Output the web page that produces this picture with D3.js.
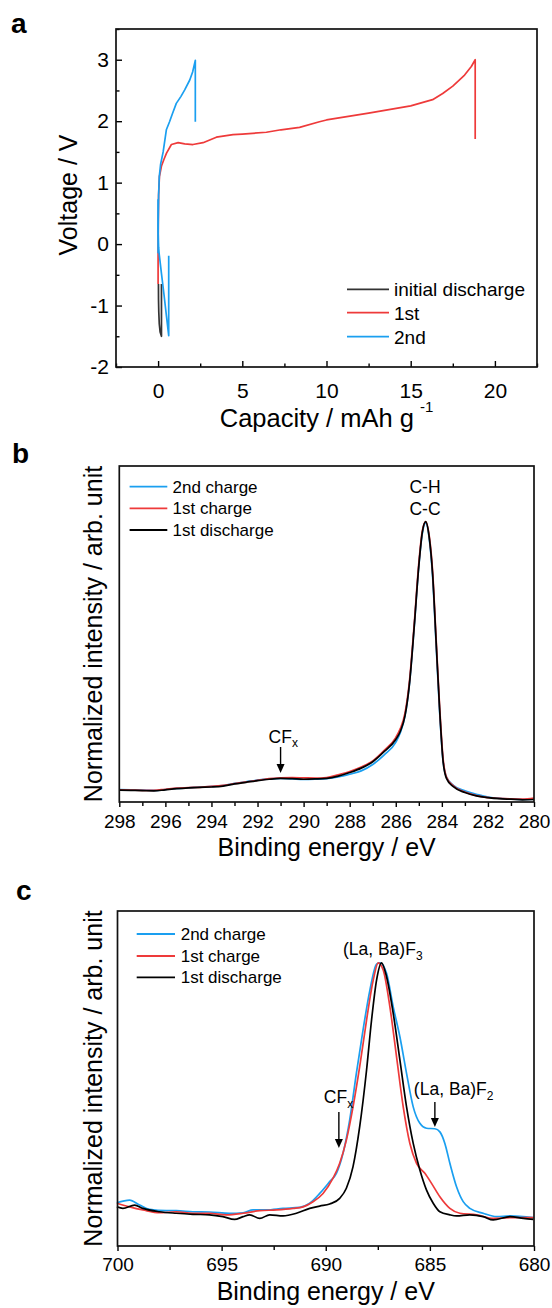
<!DOCTYPE html>
<html><head><meta charset="utf-8">
<script src="https://cdn.jsdelivr.net/npm/d3@7"></script>
<style>
body{margin:0;background:#fff}
svg{display:block}
text{font-family:Arial,"Liberation Sans",Helvetica,sans-serif;fill:#000}
</style>
</head><body>
<svg id="fig" width="552" height="1308"></svg>
<script>
// ---------------- Panel a data (capacity mAh/g, voltage V) ----------------
const aInitCap = [0.02, 0.025, 0.04, 0.07, 0.12, 0.2, 0.2];
const aInitV   = [-0.65, -0.9, -1.1, -1.3, -1.43, -1.5, -0.65];
const a1stCap = [0.0, 0.0, 0.01, 0.03, 0.08, 0.2, 0.35, 0.5, 0.79, 1.19, 1.58, 2.07, 2.67, 3.46, 4.45, 5.0, 6.43, 7.3, 8.4, 9.58, 10.0, 12.5, 15.0, 16.3, 16.9, 17.5, 18.2, 18.6, 18.83, 18.83];
const a1stV   = [-0.65, -0.2, 0.3, 0.8, 1.1, 1.27, 1.38, 1.48, 1.62, 1.65, 1.63, 1.62, 1.65, 1.74, 1.78, 1.79, 1.82, 1.86, 1.90, 1.99, 2.02, 2.13, 2.25, 2.35, 2.45, 2.57, 2.75, 2.89, 3.0, 1.71];
const a2ndDisCap = [0.0, 0.0, 0.03, 0.06, 0.2, 0.35, 0.5, 0.63, 0.63];
const a2ndDisV   = [0.73, 0.2, -0.05, -0.15, -0.48, -0.82, -1.18, -1.49, -0.19];
const a2ndChgCap = [0.0, 0.01, 0.03, 0.07, 0.15, 0.3, 0.49, 0.68, 0.85, 1.08, 1.35, 1.58, 1.88, 2.05, 2.21, 2.21];
const a2ndChgV   = [-0.15, 0.4, 0.8, 1.1, 1.3, 1.5, 1.86, 1.99, 2.12, 2.29, 2.4, 2.51, 2.67, 2.8, 2.99, 1.99];
const aXTicks = [0, 5, 10, 15, 20];
const aXMinor = [-2.5, 2.5, 7.5, 12.5, 17.5, 22.5];
const aYTicks = [-2, -1, 0, 1, 2, 3];
const aYMinor = [-1.5, -0.5, 0.5, 1.5, 2.5, 3.5];
const aLegend = ["initial discharge", "1st", "2nd"];

// ---------------- Panel b data (binding energy eV, normalized intensity) ----------------
const bE = [298, 297.5, 297, 296.5, 296, 295.5, 295, 294.5, 294, 293.5, 293, 292.5, 292, 291.5, 291, 290.5, 290, 289.5, 289, 288.5, 288, 287.5, 287, 286.5, 286, 285.8, 285.6, 285.4, 285.2, 285.0, 284.85, 284.7, 284.55, 284.4, 284.25, 284.1, 283.95, 283.8, 283.5, 283, 282.5, 282, 281.5, 281, 280.5, 280];
const bBlack = [0.033, 0.032, 0.031, 0.030, 0.034, 0.038, 0.041, 0.043, 0.044, 0.047, 0.055, 0.061, 0.067, 0.072, 0.075, 0.074, 0.072, 0.073, 0.075, 0.083, 0.096, 0.112, 0.135, 0.172, 0.215, 0.245, 0.30, 0.42, 0.62, 0.84, 0.96, 1.0, 0.945, 0.81, 0.57, 0.33, 0.14, 0.075, 0.045, 0.024, 0.012, 0.006, 0.002, 0.0, -0.002, -0.001];
const bRed   = [0.034, 0.033, 0.032, 0.032, 0.036, 0.040, 0.042, 0.043, 0.046, 0.050, 0.056, 0.062, 0.068, 0.074, 0.077, 0.078, 0.077, 0.076, 0.078, 0.088, 0.100, 0.116, 0.138, 0.176, 0.222, 0.255, 0.31, 0.43, 0.63, 0.85, 0.965, 1.0, 0.95, 0.82, 0.58, 0.34, 0.15, 0.08, 0.048, 0.026, 0.013, 0.006, 0.003, 0.001, 0.0, 0.004];
const bBlue  = [0.035, 0.034, 0.033, 0.032, 0.035, 0.039, 0.041, 0.044, 0.046, 0.049, 0.057, 0.063, 0.069, 0.073, 0.075, 0.073, 0.071, 0.072, 0.074, 0.080, 0.090, 0.102, 0.125, 0.160, 0.205, 0.24, 0.30, 0.42, 0.62, 0.84, 0.955, 0.995, 0.94, 0.80, 0.56, 0.32, 0.14, 0.08, 0.050, 0.030, 0.018, 0.008, 0.003, 0.001, -0.001, 0.0];
const bXTicks = [298, 296, 294, 292, 290, 288, 286, 284, 282, 280];
const bXMinor = [297, 295, 293, 291, 289, 287, 285, 283, 281];

// ---------------- Panel c data ----------------
const cBlueE = [700.03, 699.42, 698.94, 698.46, 697.66, 697.18, 696.38, 695.58, 694.62, 693.97, 693.49, 692.85, 692.05, 691.25, 690.77, 690.29, 689.81, 689.49, 689.17, 688.85, 688.53, 688.21, 687.88, 687.56, 687.40, 687.08, 686.76, 686.44, 686.12, 685.80, 685.48, 685.16, 684.76, 684.52, 684.28, 684.04, 683.72, 683.40, 683.08, 682.44, 681.79, 681.15, 680.03];
const cBlueI = [0.068, 0.078, 0.059, 0.042, 0.037, 0.037, 0.033, 0.032, 0.027, 0.029, 0.040, 0.040, 0.046, 0.050, 0.066, 0.104, 0.150, 0.182, 0.260, 0.389, 0.570, 0.738, 0.893, 0.994, 0.999, 0.958, 0.828, 0.712, 0.570, 0.440, 0.376, 0.357, 0.355, 0.343, 0.298, 0.221, 0.130, 0.072, 0.046, 0.027, 0.014, 0.017, 0.010];
const cRedE = [700.03, 699.42, 698.78, 697.98, 697.18, 696.38, 695.58, 694.78, 693.97, 693.17, 692.37, 691.57, 691.09, 690.61, 690.13, 689.65, 689.33, 689.01, 688.69, 688.37, 688.04, 687.72, 687.48, 687.24, 686.92, 686.60, 686.28, 685.96, 685.64, 685.24, 684.92, 684.52, 684.04, 683.56, 682.76, 681.96, 681.15, 680.03];
const cRedI = [0.066, 0.052, 0.040, 0.029, 0.033, 0.027, 0.027, 0.021, 0.027, 0.037, 0.040, 0.046, 0.052, 0.072, 0.104, 0.163, 0.221, 0.311, 0.440, 0.596, 0.777, 0.932, 0.999, 0.971, 0.828, 0.634, 0.440, 0.298, 0.221, 0.182, 0.143, 0.091, 0.046, 0.027, 0.021, 0.007, 0.010, 0.010];
const cBlackE = [700.03, 699.74, 699.18, 698.78, 697.98, 697.18, 696.38, 695.58, 694.94, 694.38, 693.97, 693.65, 693.17, 692.69, 692.05, 691.41, 690.77, 690.29, 689.81, 689.33, 689.01, 688.69, 688.37, 688.04, 687.80, 687.56, 687.32, 687.08, 686.76, 686.44, 686.12, 685.80, 685.48, 685.16, 684.84, 684.52, 684.04, 683.72, 683.08, 682.44, 681.96, 681.15, 680.51, 680.03];
const cBlackI = [0.052, 0.046, 0.059, 0.046, 0.033, 0.027, 0.023, 0.021, 0.014, 0.003, 0.014, 0.021, 0.007, 0.021, 0.017, 0.027, 0.046, 0.055, 0.063, 0.085, 0.124, 0.208, 0.363, 0.583, 0.777, 0.932, 0.999, 0.945, 0.803, 0.622, 0.440, 0.298, 0.195, 0.117, 0.066, 0.033, 0.021, 0.017, 0.021, 0.014, 0.001, 0.014, 0.007, 0.003];
const cXTicks = [700, 695, 690, 685, 680];
const cXMinor = [697.5, 692.5, 687.5, 682.5];
const xpsLegend = ["2nd charge", "1st charge", "1st discharge"];

// ---------------- drawing ----------------
const svg = d3.select("#fig");
const RED = "#ee3a3a", BLUE = "#1a9ff0", BLACK = "#000", GREY = "#333";
const zip = (xs, ys) => xs.map((x, i) => [x, ys[i]]);

function styleAxis(g, fs) {
  g.select(".domain").remove();
  g.selectAll(".tick line").attr("stroke", "#000").attr("stroke-width", 1.4);
  g.selectAll("text").style("font-size", fs + "px").attr("fill", "#000");
}
function frame(x0, y0, x1, y1) {
  svg.append("rect").attr("x", x0).attr("y", y0).attr("width", x1 - x0).attr("height", y1 - y0)
    .attr("fill", "none").attr("stroke", "#111").attr("stroke-width", 1.7);
}
function legend(items, colors, x0, x1, tx, ys, fs) {
  items.forEach((t, i) => {
    svg.append("line").attr("x1", x0).attr("x2", x1).attr("y1", ys[i]).attr("y2", ys[i])
      .attr("stroke", colors[i]).attr("stroke-width", 1.8);
    svg.append("text").attr("x", tx).attr("y", ys[i]).attr("dy", "0.36em")
      .style("font-size", fs + "px").text(t);
  });
}
function arrow(x, y0, y1) {
  svg.append("line").attr("x1", x).attr("x2", x).attr("y1", y0).attr("y2", y1 - 7)
    .attr("stroke", "#000").attr("stroke-width", 1.4);
  svg.append("path").attr("d", `M${x - 4},${y1 - 9} L${x + 4},${y1 - 9} L${x},${y1} Z`).attr("fill", "#000");
}
function panelLabel(t, x, y) {
  svg.append("text").attr("x", x).attr("y", y).style("font-size", "28px").style("font-weight", "bold").text(t);
}

// ===== Panel a =====
{
  const L = 116, R = 537, T = 29, B = 367;
  const x = d3.scaleLinear().domain([-2.5, 22.5]).range([L, R]);
  const y = d3.scaleLinear().domain([-2, 3.5]).range([B, T]);
  const line = d3.line().x(d => x(d[0])).y(d => y(d[1]));
  const series = [
    [zip(aInitCap, aInitV), GREY],
    [zip(a1stCap, a1stV), RED],
    [zip(a2ndDisCap, a2ndDisV), BLUE],
    [zip(a2ndChgCap, a2ndChgV), BLUE]
  ];
  series.forEach(([d, c]) => svg.append("path").datum(d).attr("d", line)
    .attr("fill", "none").attr("stroke", c).attr("stroke-width", 1.7).attr("stroke-linejoin", "round"));
  let g = svg.append("g").attr("transform", `translate(0,${B})`)
    .call(d3.axisBottom(x).tickValues(aXTicks).tickSize(-6).tickPadding(16).tickFormat(d => String(d)));
  styleAxis(g, 21);
  g = svg.append("g").attr("transform", `translate(0,${B})`)
    .call(d3.axisBottom(x).tickValues(aXMinor).tickSize(-3.5).tickFormat(""));
  styleAxis(g, 21);
  g = svg.append("g").attr("transform", `translate(${L},0)`)
    .call(d3.axisLeft(y).tickValues(aYTicks).tickSize(-6).tickPadding(7).tickFormat(d => String(d)));
  styleAxis(g, 21);
  g = svg.append("g").attr("transform", `translate(${L},0)`)
    .call(d3.axisLeft(y).tickValues(aYMinor).tickSize(-3.5).tickFormat(""));
  styleAxis(g, 21);
  frame(L, T, R, B);
  const xt = svg.append("text").attr("x", (L + R) / 2).attr("y", 427).attr("text-anchor", "middle").style("font-size", "25.5px");
  xt.append("tspan").text("Capacity / mAh g");
  xt.append("tspan").attr("dy", -15).attr("dx", 6).style("font-size", "15px").text("-1");
  svg.append("text").attr("transform", `translate(77,195) rotate(-90)`).attr("text-anchor", "middle")
    .style("font-size", "25px").text("Voltage / V");
  legend(aLegend, [GREY, RED, BLUE], 347, 389, 394, [289.3, 312.7, 336.7], 19);
  panelLabel("a", 11, 33);
}

// ===== Panel b =====
{
  const L = 119.3, R = 534, T = 466, B = 802;
  const x = d3.scaleLinear().domain([298, 280]).range([L, R]);
  const y = d3.scaleLinear().domain([-0.01, 1.2]).range([B, T]);
  const line = d3.line().x(d => x(d[0])).y(d => y(d[1])).curve(d3.curveMonotoneX);
  [[bBlue, BLUE], [bRed, RED], [bBlack, BLACK]].forEach(([v, c]) =>
    svg.append("path").datum(zip(bE, v)).attr("d", line).attr("fill", "none")
      .attr("stroke", c).attr("stroke-width", 1.7).attr("stroke-linejoin", "round"));
  let g = svg.append("g").attr("transform", `translate(0,${B})`)
    .call(d3.axisBottom(x).tickValues(bXTicks).tickSize(5).tickPadding(8).tickFormat(d => String(d)));
  styleAxis(g, 19);
  g = svg.append("g").attr("transform", `translate(0,${B})`)
    .call(d3.axisBottom(x).tickValues(bXMinor).tickSize(4).tickFormat(""));
  styleAxis(g, 19);
  frame(L, T, R, B);
  svg.append("text").attr("x", (L + R) / 2).attr("y", 856).attr("text-anchor", "middle")
    .style("font-size", "25px").text("Binding energy / eV");
  svg.append("text").attr("transform", `translate(102,${(T + B) / 2}) rotate(-90)`).attr("text-anchor", "middle")
    .style("font-size", "25px").text("Normalized intensity / arb. unit");
  legend(xpsLegend, [BLUE, RED, BLACK], 129.6, 167.3, 172.5, [486.7, 508.3, 530], 17);
  const px = x(284.73);
  svg.append("text").attr("x", px).attr("y", 493).attr("text-anchor", "middle").style("font-size", "17.5px").text("C-H");
  svg.append("text").attr("x", px).attr("y", 515).attr("text-anchor", "middle").style("font-size", "17.5px").text("C-C");
  const cx = x(291.0);
  const cf = svg.append("text").attr("x", cx - 12).attr("y", 743).style("font-size", "17.5px");
  cf.append("tspan").text("CF");
  cf.append("tspan").attr("dy", 4).style("font-size", "12px").text("x");
  arrow(cx, 747, 773);
  panelLabel("b", 12, 463);
}

// ===== Panel c =====
{
  const L = 117.5, R = 534, T = 911, B = 1246;
  const x = d3.scaleLinear().domain([700, 680]).range([L, R]);
  const y = d3.scaleLinear().domain([-0.1, 1.2]).range([B, T]);
  const line = d3.line().x(d => x(d[0])).y(d => y(d[1])).curve(d3.curveMonotoneX);
  [[cBlueE, cBlueI, BLUE], [cRedE, cRedI, RED], [cBlackE, cBlackI, BLACK]].forEach(([e, v, c]) =>
    svg.append("path").datum(zip(e, v)).attr("d", line).attr("fill", "none")
      .attr("stroke", c).attr("stroke-width", 1.7).attr("stroke-linejoin", "round"));
  let g = svg.append("g").attr("transform", `translate(0,${B})`)
    .call(d3.axisBottom(x).tickValues(cXTicks).tickSize(5).tickPadding(7).tickFormat(d => String(d)));
  styleAxis(g, 19);
  g = svg.append("g").attr("transform", `translate(0,${B})`)
    .call(d3.axisBottom(x).tickValues(cXMinor).tickSize(4).tickFormat(""));
  styleAxis(g, 19);
  frame(L, T, R, B);
  svg.append("text").attr("x", (L + R) / 2).attr("y", 1300).attr("text-anchor", "middle")
    .style("font-size", "25px").text("Binding energy / eV");
  svg.append("text").attr("transform", `translate(102,${(T + B) / 2}) rotate(-90)`).attr("text-anchor", "middle")
    .style("font-size", "25px").text("Normalized intensity / arb. unit");
  legend(xpsLegend, [BLUE, RED, BLACK], 136.7, 175, 180.7, [934, 956, 977.3], 17);
  const t3 = svg.append("text").attr("x", x(687.35) - 38).attr("y", 955).style("font-size", "17.5px");
  t3.append("tspan").text("(La, Ba)F");
  t3.append("tspan").attr("dy", 5).style("font-size", "12px").text("3");
  const fx = x(684.76);
  const t2 = svg.append("text").attr("x", fx - 21).attr("y", 1095).style("font-size", "17.5px");
  t2.append("tspan").text("(La, Ba)F");
  t2.append("tspan").attr("dy", 5).style("font-size", "12px").text("2");
  arrow(fx, 1102, 1127);
  const cfx = x(689.37);
  const cf = svg.append("text").attr("x", cfx - 15).attr("y", 1103).style("font-size", "17.5px");
  cf.append("tspan").text("CF");
  cf.append("tspan").attr("dy", 5).style("font-size", "12px").text("x");
  arrow(cfx, 1112, 1148);
  panelLabel("c", 16, 900);
}
</script>
</body></html>
